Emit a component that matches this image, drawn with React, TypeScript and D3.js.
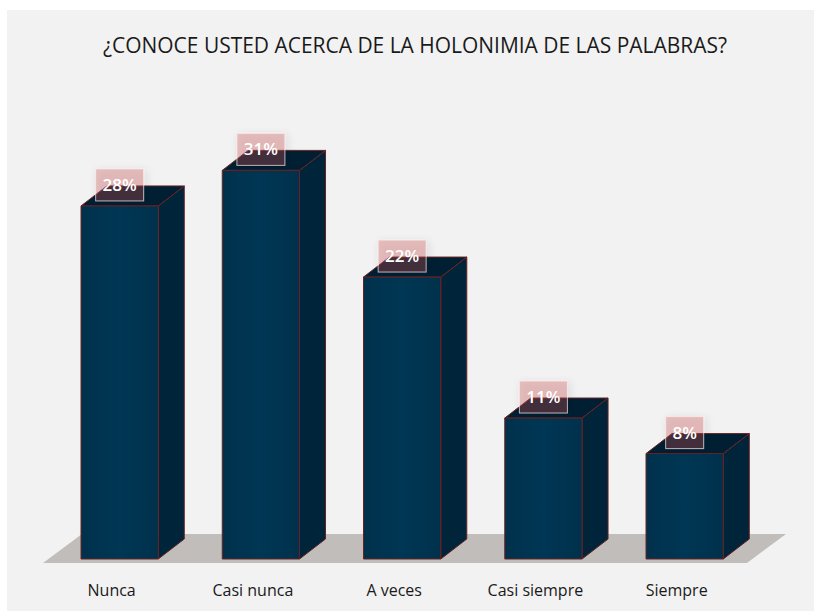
import React from 'react';
import * as d3 from 'd3';

// chart data
const categories = ['Nunca', 'Casi nunca', 'A veces', 'Casi siempre', 'Siempre'];
const values = [27.8, 30.6, 22.2, 11.1, 8.3];
const valueLabels = ['28%', '31%', '22%', '11%', '8%'];
const title = '¿CONOCE USTED ACERCA DE LA HOLONIMIA DE LAS PALABRAS?';

const W = 814;
const H = 611;
const DX = 26; // 3d depth offsets
const DY = 20;

export default function App() {
  const x = d3
    .scaleBand<string>()
    .domain(categories)
    .range([45.7, 758.6])
    .paddingInner(0.453)
    .paddingOuter(0.25);
  const y = d3.scaleLinear().domain([0, 35]).range([559, 114.5]);
  const bw = x.bandwidth();
  const y0 = y(0);

  const floorPath = d3.path();
  floorPath.moveTo(43, 563);
  floorPath.lineTo(747, 563);
  floorPath.lineTo(786, 534);
  floorPath.lineTo(82, 534);
  floorPath.closePath();

  const font = "'Open Sans', sans-serif";

  return (
    <div style={{ position: 'absolute', left: 0, top: 0 }}>
      <svg width={W} height={H} style={{ display: 'block' }}>
        <defs>
          <linearGradient id="front" x1="0" x2="1" y1="0" y2="0">
            <stop offset="0" stopColor="#00314c" />
            <stop offset="0.5" stopColor="#003754" />
            <stop offset="1" stopColor="#00314c" />
          </linearGradient>
          <filter id="glow" x="-50%" y="-50%" width="200%" height="200%">
            <feGaussianBlur in="SourceAlpha" stdDeviation="4" />
            <feOffset dx="2" dy="2" result="b" />
            <feComponentTransfer>
              <feFuncA type="linear" slope="0.25" />
            </feComponentTransfer>
            <feMerge>
              <feMergeNode />
              <feMergeNode in="SourceGraphic" />
            </feMerge>
          </filter>
        </defs>
        <rect x={0} y={0} width={W} height={H} fill="#ffffff" />
        <rect x={7} y={10} width={W - 7} height={H - 10} fill="#f2f2f2" />

        <text
          x={415}
          y={53}
          textAnchor="middle"
          fontFamily={font}
          fontSize={21}
          fill="#1a1a1a"
          textLength={624}
          lengthAdjust="spacingAndGlyphs"
        >
          {title}
        </text>

        <path d={floorPath.toString()} fill="#c0bdbb" />

        {categories.map((c, i) => {
          const x0 = x(c) as number;
          const x1 = x0 + bw;
          const yt = y(values[i]);
          const top = `M${x0},${yt}L${x1},${yt}L${x1 + DX},${yt - DY}L${x0 + DX},${yt - DY}Z`;
          const side = `M${x1},${yt}L${x1 + DX},${yt - DY}L${x1 + DX},${y0 - DY}L${x1},${y0}Z`;
          return (
            <g key={c} stroke="#6a2222" strokeWidth={1} strokeLinejoin="round">
              <path d={side} fill="#00243a" />
              <path d={top} fill="#001f33" />
              <rect x={x0} y={yt} width={bw} height={y0 - yt} fill="url(#front)" />
            </g>
          );
        })}

        {categories.map((c, i) => {
          const cx = (x(c) as number) + bw / 2;
          const yt = y(values[i]);
          const label = valueLabels[i];
          const boxW = label.length * 10 + 18;
          const boxH = 32;
          const by = yt - 5 - boxH;
          return (
            <g key={c + '-lab'}>
              <rect
                x={cx - boxW / 2}
                y={by}
                width={boxW}
                height={boxH}
                fill="rgba(205,80,80,0.3)"
                stroke="rgba(255,235,235,0.7)"
                strokeWidth={1}
                filter="url(#glow)"
              />
              <text
                x={cx}
                y={by + boxH / 2 + 6}
                textAnchor="middle"
                fontFamily={font}
                fontWeight={600}
                fontSize={17}
                fill="#ffffff"
              >
                {label}
              </text>
            </g>
          );
        })}

        {categories.map((c) => (
          <text
            key={c + '-cat'}
            x={(x(c) as number) + bw / 2 - 8}
            y={596}
            textAnchor="middle"
            fontFamily={font}
            fontSize={16}
            fill="#1a1a1a"
          >
            {c}
          </text>
        ))}
      </svg>
    </div>
  );
}
